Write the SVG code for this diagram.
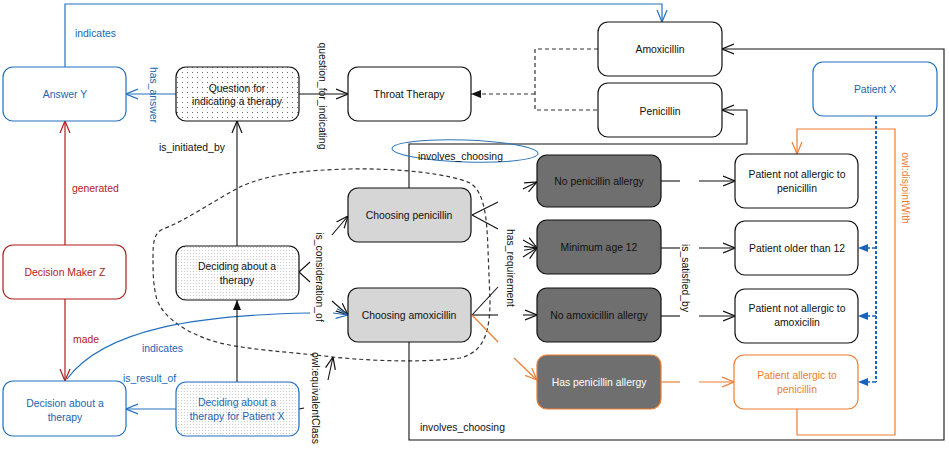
<svg xmlns="http://www.w3.org/2000/svg" width="949" height="450" viewBox="0 0 949 450">
<style>
text{font-family:"Liberation Sans",Arial,sans-serif;font-size:10.4px;fill:#111}
.c{text-anchor:middle}
.n{stroke:#111;stroke-width:1.2;fill:#fff}
.blue{fill:#2166b5}
.red{fill:#b31b1b}
.org{fill:#ed7d31}
.l{fill:none;stroke:#111;stroke-width:1.1}
.lb{fill:none;stroke:#2470c0;stroke-width:1.2}
.lr{fill:none;stroke:#b31b1b;stroke-width:1.2}
.lo{fill:none;stroke:#ed7d31;stroke-width:1.2}
.dash{fill:none;stroke:#333;stroke-width:1.2;stroke-dasharray:4 3}
</style>
<defs>
<pattern id="dots1" width="5" height="5" patternUnits="userSpaceOnUse"><rect width="5" height="5" fill="#fff"/><circle cx="2.5" cy="2.5" r="0.55" fill="#555"/></pattern>
<pattern id="dots2" width="3" height="3" patternUnits="userSpaceOnUse"><rect width="3" height="3" fill="#fff"/><circle cx="1.5" cy="1.5" r="0.5" fill="#bbb"/></pattern>
<marker id="ok" viewBox="0 0 12 12" refX="12" refY="6" markerWidth="12" markerHeight="12" markerUnits="userSpaceOnUse" orient="auto"><path d="M0,1 L12,6 L0,11" fill="none" stroke="#111" stroke-width="1.2"/></marker>
<marker id="ob" viewBox="0 0 12 12" refX="12" refY="6" markerWidth="12" markerHeight="12" markerUnits="userSpaceOnUse" orient="auto"><path d="M0,1 L12,6 L0,11" fill="none" stroke="#2470c0" stroke-width="1.2"/></marker>
<marker id="or" viewBox="0 0 12 12" refX="12" refY="6" markerWidth="12" markerHeight="12" markerUnits="userSpaceOnUse" orient="auto"><path d="M0,1 L12,6 L0,11" fill="none" stroke="#b31b1b" stroke-width="1.2"/></marker>
<marker id="oo" viewBox="0 0 12 12" refX="12" refY="6" markerWidth="12" markerHeight="12" markerUnits="userSpaceOnUse" orient="auto"><path d="M0,1 L12,6 L0,11" fill="none" stroke="#ed7d31" stroke-width="1.2"/></marker>
<marker id="fk" viewBox="0 0 10 10" refX="10" refY="5" markerWidth="10" markerHeight="10" markerUnits="userSpaceOnUse" orient="auto"><path d="M0,1 L10,5 L0,9 Z" fill="#111"/></marker>
<marker id="fb" viewBox="0 0 10 10" refX="10" refY="5" markerWidth="10" markerHeight="10" markerUnits="userSpaceOnUse" orient="auto"><path d="M0,1 L10,5 L0,9 Z" fill="#1565c0"/></marker>
</defs>
<rect width="949" height="450" fill="#fff"/>

<g id="connectors">
  <path class="dash" d="M153,258 C153,242 154,233 163,229 C185,221 215,200 240,187 C270,173 310,170 350,169 C400,168 450,174 470,183 C485,192 487,220 488,250 L490,300 C490,330 485,352 460,358 C430,362 380,362 333,357 C290,352 250,350 220,343 C190,335 165,320 157,300 C153,285 153,272 153,258 Z" stroke-width="1"/>
  <polyline class="lb" points="65,67 65,4 662,4 662,22" marker-end="url(#ob)"/>
  <line class="lb" x1="176" y1="94" x2="126" y2="94" marker-end="url(#ob)"/>
  <line class="l" x1="299" y1="94" x2="348" y2="94" marker-end="url(#ok)"/>
  <polyline class="dash" points="598,49 535,49 535,110 598,110"/>
  <line class="dash" x1="535" y1="94" x2="471" y2="94" marker-end="url(#fk)"/>
  <polyline class="l" points="409,188 409,144 747,144 747,110 722,110" marker-end="url(#ok)"/>
  <polyline class="l" points="409,342 409,440 944,440 944,49 722,49" marker-end="url(#ok)"/>
  <line x1="876" y1="116" x2="876" y2="382" stroke="#1565c0" stroke-width="2" stroke-dasharray="3 2"/>
  <line x1="876" y1="248" x2="858" y2="248" stroke="#1565c0" stroke-width="1.5" stroke-dasharray="4 2" marker-end="url(#fb)"/>
  <line x1="876" y1="316" x2="858" y2="316" stroke="#1565c0" stroke-width="1.5" stroke-dasharray="4 2" marker-end="url(#fb)"/>
  <line x1="876" y1="382" x2="858" y2="382" stroke="#1565c0" stroke-width="1.5" stroke-dasharray="4 2" marker-end="url(#fb)"/>
  <polyline class="lo" points="797,409 797,435 895,435 895,129 797,129 797,154" marker-start="url(#oo)" marker-end="url(#oo)"/>
  <line class="l" x1="472" y1="215" x2="498" y2="202"/>
  <line class="l" x1="472" y1="215" x2="498" y2="229"/>
  <line class="l" x1="523" y1="189" x2="537" y2="182" marker-end="url(#ok)"/>
  <line class="l" x1="523" y1="240" x2="537" y2="248" marker-end="url(#ok)"/>
  <line class="l" x1="523" y1="257" x2="537" y2="248" marker-end="url(#ok)"/>
  <line class="l" x1="472" y1="315" x2="498" y2="287"/>
  <line class="l" x1="472" y1="315" x2="498" y2="315"/>
  <line class="lo" x1="472" y1="315" x2="498" y2="342"/>
  <line class="l" x1="523" y1="315" x2="537" y2="315" marker-end="url(#ok)"/>
  <line class="lo" x1="514" y1="358" x2="537" y2="380" marker-end="url(#oo)"/>
  <line class="l" x1="661" y1="181" x2="680" y2="181"/>
  <line class="l" x1="699" y1="181" x2="735" y2="181" marker-end="url(#ok)"/>
  <line class="l" x1="661" y1="248" x2="680" y2="248"/>
  <line class="l" x1="699" y1="248" x2="735" y2="248" marker-end="url(#ok)"/>
  <line class="l" x1="661" y1="316" x2="680" y2="316"/>
  <line class="l" x1="699" y1="316" x2="735" y2="316" marker-end="url(#ok)"/>
  <line class="lo" x1="661" y1="382" x2="680" y2="382"/>
  <line class="lo" x1="699" y1="382" x2="734" y2="382" marker-end="url(#oo)"/>
  <line class="l" x1="299" y1="272" x2="310" y2="262"/>
  <line class="l" x1="299" y1="272" x2="310" y2="282"/>
  <line class="l" x1="332" y1="235" x2="348" y2="216" marker-end="url(#ok)"/>
  <line class="l" x1="332" y1="301" x2="348" y2="315" marker-end="url(#ok)"/>
  <path class="lb" d="M310,313 C200,315 105,328 67,379"/>
  <line class="lb" x1="333" y1="313" x2="348" y2="315" marker-end="url(#ob)"/>
  <line class="l" x1="299" y1="409" x2="304" y2="408"/>
  <line class="l" x1="328" y1="380" x2="333" y2="357" marker-end="url(#ok)"/>
  <line class="l" x1="237" y1="246" x2="237" y2="121" marker-end="url(#ok)"/>
  <line class="l" x1="237" y1="382" x2="237" y2="300" marker-end="url(#fk)"/>
  <line class="lb" x1="176" y1="409" x2="126" y2="409" marker-end="url(#ob)"/>
  <line class="lr" x1="65" y1="245" x2="65" y2="121" marker-end="url(#or)"/>
  <line class="lr" x1="65" y1="299" x2="65" y2="381" marker-end="url(#or)"/>
  <ellipse cx="465" cy="151" rx="73" ry="11" fill="none" stroke="#2e75b6" stroke-width="1" transform="rotate(2 465 151)"/>
  <text class="blue" x="75" y="37">indicates</text>
  <text class="blue" transform="translate(150,95) rotate(90)" text-anchor="middle">has_answer</text>
  <text transform="translate(319,96) rotate(90)" text-anchor="middle" fill="#3a2410">question_for_indicating</text>
  <text x="159" y="151">is_initiated_by</text>
  <text class="red" x="72" y="192">generated</text>
  <text class="red" x="73" y="343">made</text>
  <text class="blue" x="142" y="352">indicates</text>
  <text class="blue" x="123" y="382">is_result_of</text>
  <text transform="translate(316,277) rotate(90)" text-anchor="middle" fill="#3a2410">is_consideration_of</text>
  <text transform="translate(312,398) rotate(90)" text-anchor="middle" fill="#1a2a44">owl:equivalentClass</text>
  <text transform="translate(507,268) rotate(90)" text-anchor="middle">has_requirement</text>
  <text transform="translate(682,278) rotate(90)" text-anchor="middle">is_satisfied_by</text>
  <text class="org" transform="translate(902,188) rotate(90)" text-anchor="middle">owl:disjointWith</text>
  <text x="418" y="160">involves_choosing</text>
  <text x="420" y="431">involves_choosing</text>
</g>

<g id="answer-y"><rect x="3" y="67" width="123" height="54" rx="10" class="n" style="stroke:#2470c0"/><text class="c blue" x="65" y="98">Answer Y</text></g>
<g id="question"><rect x="176" y="67" width="123" height="54" rx="10" class="n" style="fill:url(#dots1)"/><text class="c" x="237" y="92">Question for</text><text class="c" x="237" y="105">indicating a therapy</text></g>
<g id="throat-therapy"><rect x="348" y="67" width="123" height="54" rx="10" class="n"/><text class="c" x="409" y="98">Throat Therapy</text></g>
<g id="amoxicillin"><rect x="598" y="22" width="124" height="54" rx="10" class="n"/><text class="c" x="660" y="53">Amoxicillin</text></g>
<g id="penicillin"><rect x="598" y="83" width="124" height="54" rx="10" class="n"/><text class="c" x="660" y="115">Penicillin</text></g>
<g id="patient-x"><rect x="813" y="62" width="124" height="54" rx="10" class="n" style="stroke:#2470c0"/><text class="c blue" x="875" y="93">Patient X</text></g>
<g id="decision-maker-z"><rect x="3" y="245" width="123" height="54" rx="10" class="n" style="stroke:#b31b1b"/><text class="c red" x="65" y="276">Decision Maker Z</text></g>
<g id="deciding"><rect x="176" y="246" width="123" height="54" rx="10" class="n" style="fill:url(#dots2)"/><text class="c" x="237" y="270">Deciding about a</text><text class="c" x="237" y="284">therapy</text></g>
<g id="choosing-penicillin"><rect x="348" y="188" width="123" height="54" rx="10" class="n" style="fill:#d6d6d6"/><text class="c" x="409" y="219">Choosing penicillin</text></g>
<g id="choosing-amoxicillin"><rect x="348" y="288" width="123" height="54" rx="10" class="n" style="fill:#d6d6d6"/><text class="c" x="409" y="319">Choosing amoxicillin</text></g>
<g id="decision-about"><rect x="3" y="381" width="123" height="55" rx="10" class="n" style="stroke:#2470c0"/><text class="c blue" x="65" y="407">Decision about a</text><text class="c blue" x="65" y="421">therapy</text></g>
<g id="deciding-patient-x"><rect x="176" y="382" width="123" height="54" rx="10" class="n" style="stroke:#2470c0;fill:url(#dots2)"/><text class="c blue" x="237" y="406">Deciding about a</text><text class="c blue" x="237" y="420">therapy for Patient X</text></g>
<g id="no-penicillin-allergy"><rect x="537" y="155" width="124" height="52" rx="10" class="n" style="fill:#6f6f6f"/><text class="c" x="599" y="185">No penicillin allergy</text></g>
<g id="minimum-age"><rect x="537" y="220" width="124" height="54" rx="10" class="n" style="fill:#6f6f6f"/><text class="c" x="599" y="251">Minimum age 12</text></g>
<g id="no-amoxicillin-allergy"><rect x="537" y="288" width="124" height="54" rx="10" class="n" style="fill:#6f6f6f"/><text class="c" x="599" y="319">No amoxicillin allergy</text></g>
<g id="has-penicillin-allergy"><rect x="537" y="355" width="124" height="54" rx="10" class="n" style="fill:#6f6f6f;stroke:#ed7d31"/><text class="c" x="599" y="386" style="fill:#fff">Has penicillin allergy</text></g>
<g id="patient-not-allergic-pen"><rect x="735" y="154" width="123" height="54" rx="10" class="n"/><text class="c" x="797" y="178">Patient not allergic to</text><text class="c" x="797" y="192">penicillin</text></g>
<g id="patient-older"><rect x="735" y="221" width="123" height="54" rx="10" class="n"/><text class="c" x="797" y="252">Patient older than 12</text></g>
<g id="patient-not-allergic-amox"><rect x="735" y="289" width="123" height="54" rx="10" class="n"/><text class="c" x="797" y="312">Patient not allergic to</text><text class="c" x="797" y="326">amoxicilin</text></g>
<g id="patient-allergic-pen"><rect x="734" y="355" width="124" height="54" rx="10" class="n" style="stroke:#ed7d31"/><text class="c org" x="797" y="379">Patient allergic to</text><text class="c org" x="797" y="393">penicillin</text></g>
</svg>
